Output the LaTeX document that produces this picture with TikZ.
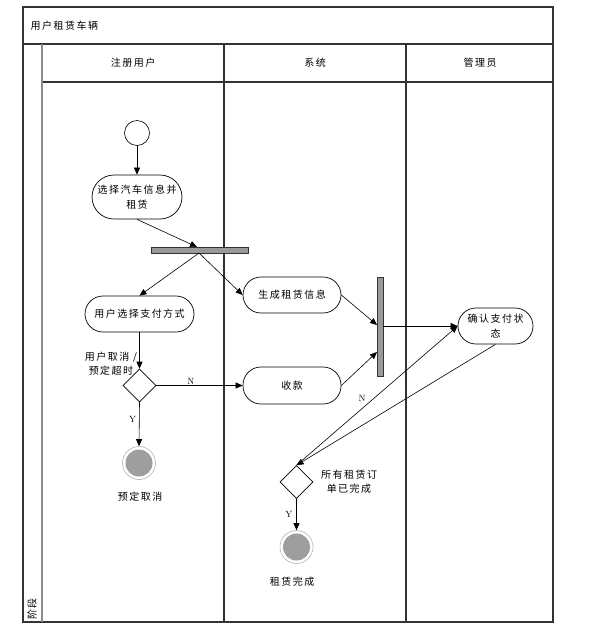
\documentclass[tikz,border=0pt]{standalone}
\usepackage{fontspec}
\newfontfamily\cjk{Noto Sans CJK SC}[LetterSpace=15]
\usetikzlibrary{arrows.meta,shapes.geometric}
\begin{document}
\begin{tikzpicture}[x=1pt,y=-1pt,
  font=\cjk\fontsize{10}{15}\selectfont,
  frame/.style={draw=black!80, line width=1.1pt},
  act/.style={draw, line width=0.7pt, rounded corners=18pt, align=center, inner sep=1pt, minimum height=36pt},
  bar/.style={draw=black!80, fill=black!40, line width=0.6pt, inner sep=0pt},
  decision/.style={draw, line width=0.6pt, diamond, aspect=1, inner sep=0pt, minimum width=33pt, minimum height=33pt},
  startnode/.style={draw, line width=0.6pt, circle, minimum size=25pt, inner sep=0pt},
  endnode/.style={draw=black!30, line width=0.6pt, circle, minimum size=33pt, inner sep=0pt,
     path picture={\fill[black!38] (path picture bounding box.center) circle (13.5pt);}},
  conn/.style={line width=0.6pt, -{Triangle[length=7pt,width=6pt]}},
  yn/.style={font=\rmfamily\fontsize{9}{10}\selectfont, inner sep=1pt}
]
\useasboundingbox (0,0) rectangle (597,638);

% swimlane frame
\draw[frame] (23,7) rectangle (553,622);
\draw[frame] (23,44) -- (553,44);
\draw[frame] (42,82) -- (553,82);
\draw[draw=black!45, line width=1.1pt] (42,44) -- (42,622);
\draw[frame] (224,44) -- (224,622);
\draw[frame] (406,44) -- (406,622);

\node[anchor=west] (title) at (27,26) {用户租赁车辆};
\node (h1) at (133,63) {注册用户};
\node (h2) at (315,63) {系统};
\node (h3) at (480,63) {管理员};
\node[rotate=90, anchor=west, inner sep=1pt] (stage) at (32,621) {阶段};

% nodes
\node[startnode] (start) at (137,133) {};
\node[act, minimum width=90pt, minimum height=44pt, rounded corners=22pt] (a1) at (137,197) {选择汽车信息并\\租赁};
\node[bar, minimum width=97pt, minimum height=6pt] (fork) at (199.5,250) {};
\coordinate (forkin) at (197,247);
\coordinate (forkout) at (199,253);
\node[act, minimum width=109pt] (a2) at (139.5,314) {用户选择支付方式};
\node[act, minimum width=98pt] (a3) at (292,295) {生成租赁信息};
\node[bar, minimum width=6pt, minimum height=99pt] (join) at (380,326.5) {};
\coordinate (joinin1) at (377,325);
\coordinate (joinin2) at (377,352);
\coordinate (joinout) at (383,326);
\node[act, minimum width=98pt, minimum height=37pt] (a4) at (292,385.5) {收款};
\node[act, minimum width=75pt, rounded corners=18pt] (a5) at (495.5,326) {确认支付状\\态};
\node[decision] (d1) at (139.5,385.5) {};
\node[align=center, font=\cjk\fontsize{10}{14}\selectfont] (d1lab) at (111,364) {用户取消 /\\预定超时};
\node[endnode] (e1) at (139,463) {};
\node (e1lab) at (140,497) {预定取消};
\node[decision] (d2) at (296.5,482) {};
\node[align=center, font=\cjk\fontsize{10}{14}\selectfont] (d2lab) at (349,482) {所有租赁订\\单已完成};
\node[endnode] (e2) at (296.5,547) {};
\node (e2lab) at (292,582) {租赁完成};

% connectors
\draw[conn] (start) -- (a1);
\draw[conn] (a1.south) -- (forkin);
\draw[conn] (forkout) -- (a2.north);
\draw[conn] (forkout) -- (a3.west);
\draw[conn] (a3.east) -- (joinin1);
\draw[conn] (a4.east) -- (joinin2);
\draw[conn] (joinout) -- (a5.west);
\draw[conn] (a2.south) -- (d1.north);
\draw[conn] (d1.east) -- node[yn, pos=0.4, above] {N} (a4.west);
\draw[conn] (d1.south) -- node[yn, pos=0.4, left=2pt] {Y} (e1.north);
\draw[conn] (a5.south) -- (d2.north);
\draw[conn] (d2.north) -- node[yn, pos=0.48, left=7pt] {N} (a5.west);
\draw[conn] (d2.south) -- node[yn, pos=0.5, left=3pt] {Y} (e2.north);
\end{tikzpicture}
\end{document}
